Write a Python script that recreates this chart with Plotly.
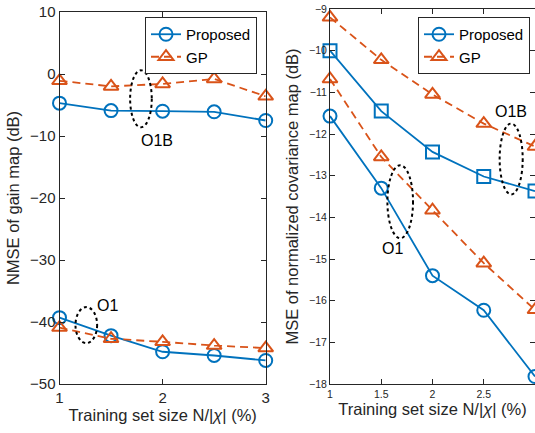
import plotly.graph_objects as go

# ---- data ----
x_vals = [1, 1.5, 2, 2.5, 3]

# left: NMSE of gain map (dB)
gain_prop_o1b = [-4.7, -5.9, -6.0, -6.1, -7.5]
gain_gp_o1b = [-1.1, -2.0, -1.6, -0.8, -3.6]
gain_prop_o1 = [-39.3, -42.2, -44.8, -45.4, -46.2]
gain_gp_o1 = [-40.9, -42.7, -43.2, -43.8, -44.2]

# right: MSE of normalized covariance map (dB)
cov_prop_o1b = [-10.0, -11.45, -12.43, -13.02, -13.37]
cov_gp_o1b = [-9.2, -10.22, -11.05, -11.75, -12.3]
cov_prop_o1 = [-11.57, -13.3, -15.4, -16.23, -17.82]
cov_gp_o1 = [-10.68, -12.55, -13.83, -15.1, -16.22]

left_yticks = [10, 0, -10, -20, -30, -40, -50]
left_xticks = [1, 2, 3]
right_yticks = [-9, -10, -11, -12, -13, -14, -15, -16, -17, -18]
right_xticks = [1, 1.5, 2, 2.5, 3]

BLUE = "#0072BD"
ORANGE = "#D95319"
FONT = "Liberation Sans, Arial, sans-serif"
AX = "#262626"

W, H = 535, 433


def fx(sx):
    return sx / W


def fy(sy):
    return (H - sy) / H


fig = go.Figure()


def add(x, y, color, symbol, dash, name, xa, ya, legend, show):
    fig.add_trace(go.Scatter(
        x=x, y=y, mode="lines+markers", name=name,
        line=dict(color=color, width=1.8, dash=dash),
        marker=dict(symbol=symbol, size=13, color=color,
                    line=dict(color=color, width=2)),
        cliponaxis=False,
        xaxis=xa, yaxis=ya, legend=legend, showlegend=show))


add(x_vals, gain_prop_o1b, BLUE, "circle-open", "solid", "Proposed", "x", "y", "legend", True)
add(x_vals, gain_gp_o1b, ORANGE, "triangle-up-open", "8px,5px", "GP", "x", "y", "legend", True)
add(x_vals, gain_prop_o1, BLUE, "circle-open", "solid", "Proposed", "x", "y", "legend", False)
add(x_vals, gain_gp_o1, ORANGE, "triangle-up-open", "8px,5px", "GP", "x", "y", "legend", False)

add(x_vals, cov_prop_o1, BLUE, "circle-open", "solid", "Proposed", "x2", "y2", "legend2", True)
add(x_vals, cov_gp_o1, ORANGE, "triangle-up-open", "8px,5px", "GP", "x2", "y2", "legend2", True)
add(x_vals, cov_prop_o1b, BLUE, "square-open", "solid", "Proposed", "x2", "y2", "legend2", False)
add(x_vals, cov_gp_o1b, ORANGE, "triangle-up-open", "8px,5px", "GP", "x2", "y2", "legend2", False)

axis_common = dict(showline=True, linecolor=AX, linewidth=1, mirror="ticks",
                   ticks="inside", ticklen=5, tickcolor=AX, showgrid=False,
                   zeroline=False, automargin=False)

XTITLE = "Training set size N/|<i>χ</i>| (%)"

fig.update_layout(
    width=W, height=H, margin=dict(l=0, r=0, t=0, b=0),
    paper_bgcolor="white", plot_bgcolor="white",
    font=dict(family=FONT, color="#262626"),
    xaxis=dict(domain=[fx(59.5), fx(265.7)], range=[1, 3], tickvals=left_xticks,
               tickfont=dict(size=15), anchor="y",
               title=dict(text=XTITLE, font=dict(size=16.5), standoff=2),
               **axis_common),
    yaxis=dict(domain=[fy(384), fy(12)], range=[-50, 10], tickvals=left_yticks,
               tickfont=dict(size=15), anchor="x",
               title=dict(text="NMSE of gain map (dB)", font=dict(size=16.5), standoff=6),
               **axis_common),
    xaxis2=dict(domain=[fx(330), 1.0], range=[1, 3], tickvals=right_xticks,
                tickfont=dict(size=10.5), anchor="y2",
                title=dict(text=XTITLE, font=dict(size=16.5), standoff=2),
                **axis_common),
    yaxis2=dict(domain=[fy(384), fy(9)], range=[-18, -9], tickvals=right_yticks,
                tickfont=dict(size=10.5), anchor="x2",
                title=dict(text="MSE of normalized covariance map (dB)", font=dict(size=16.5), standoff=6),
                **axis_common),
    legend=dict(x=fx(145), y=fy(17), xanchor="left", yanchor="top",
                bgcolor="white", bordercolor="#262626", borderwidth=1,
                font=dict(size=15, color="black"), tracegroupgap=0,
                itemwidth=30),
    legend2=dict(x=fx(418), y=fy(17), xanchor="left", yanchor="top",
                 bgcolor="white", bordercolor="#262626", borderwidth=1,
                 font=dict(size=15, color="black"), tracegroupgap=0,
                 itemwidth=30),
    showlegend=True,
)

# dotted ellipses marking the groups
ell = dict(type="circle", line=dict(color="black", width=2, dash="dot"))
fig.add_shape(xref="x", yref="y", x0=1.685, x1=1.895, y0=-8.6, y1=0.6, **ell)
fig.add_shape(xref="x", yref="y", x0=1.155, x1=1.365, y0=-43.4, y1=-37.6, **ell)
fig.add_shape(xref="x2", yref="y2", x0=1.56, x1=1.81, y0=-14.5, y1=-12.75, **ell)
fig.add_shape(xref="x2", yref="y2", x0=2.655, x1=2.88, y0=-13.45, y1=-11.75, **ell)

ann = dict(showarrow=False, font=dict(size=16, color="black"))
fig.add_annotation(xref="x", yref="y", x=1.95, y=-10.8, text="O1B", **ann)
fig.add_annotation(xref="x", yref="y", x=1.47, y=-37.3, text="O1", **ann)
fig.add_annotation(xref="x2", yref="y2", x=1.61, y=-14.75, text="O1", **ann)
fig.add_annotation(xref="x2", yref="y2", x=2.77, y=-11.47, text="O1B", **ann)

fig.write_html(
    "out.html",
    config={"displayModeBar": False},
    post_script="document.body.style.margin='0';document.body.style.overflow='hidden';",
)
